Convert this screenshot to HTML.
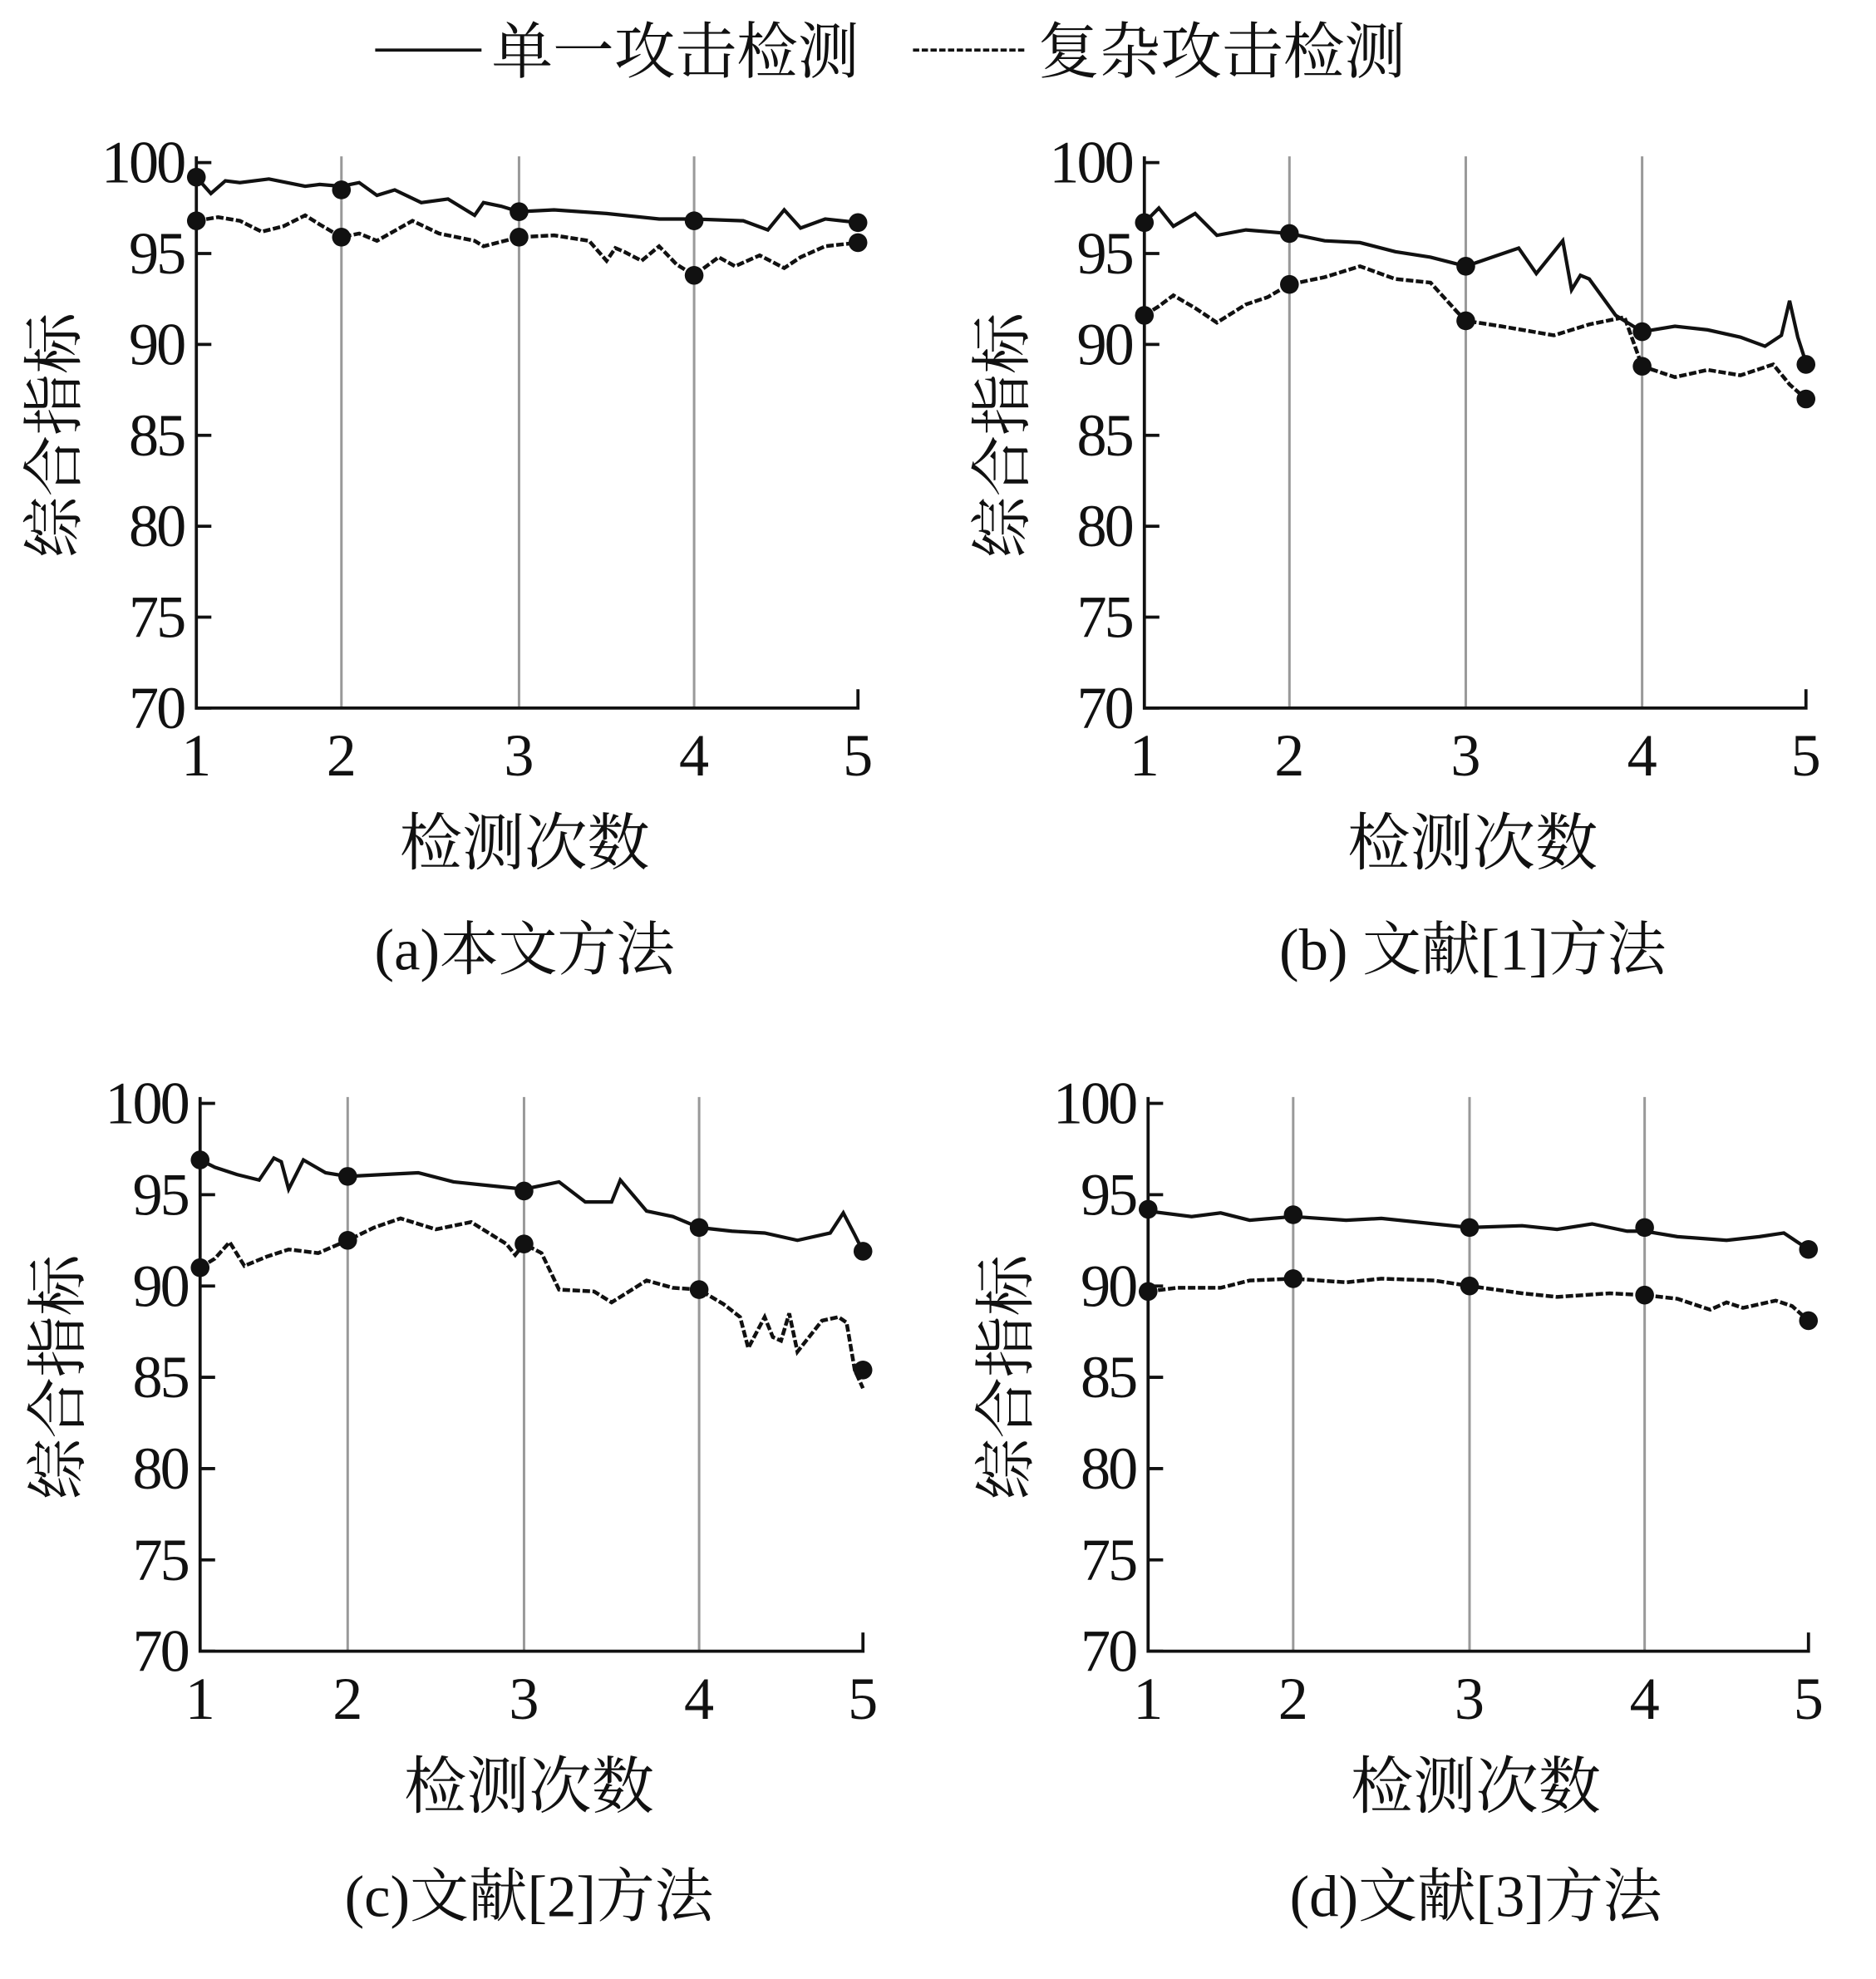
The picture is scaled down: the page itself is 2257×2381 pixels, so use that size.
<!DOCTYPE html>
<html><head><meta charset="utf-8"><style>
html,body{margin:0;padding:0;background:#fff;}
svg{display:block;}
text{font-family:"Liberation Serif","Noto Serif CJK SC",serif;fill:#111;}
.cjk{font-weight:normal;}
</style></head><body>
<svg id="chart" width="2257" height="2381" viewBox="0 0 1500 1582" preserveAspectRatio="none" xmlns="http://www.w3.org/2000/svg">
<g>
<line x1="300" y1="40" x2="385" y2="40" stroke="#111" stroke-width="2.5"/>
<text class="cjk" x="393" y="58" font-size="49">单一攻击检测</text>
<line x1="730" y1="40" x2="820" y2="40" stroke="#111" stroke-width="2.5" stroke-dasharray="5,2"/>
<text class="cjk" x="830" y="58" font-size="49">复杂攻击检测</text>
</g>
</svg>
<script>
const yTicks=[100,95,90,85,80,75,70];
const xTickLabels=[1,2,3,4,5];
const captions=["(a)本文方法","(b) 文献[1]方法","(c)文献[2]方法","(d)文献[3]方法"];
const aSolidX=[1,1.1,1.2,1.3,1.5,1.75,1.85,2,2.1,2.2,2.3,2.45,2.6,2.75,2.8,2.9,3,3.2,3.5,3.8,4,4.3,4.45,4.55,4.65,4.8,5];
const aSolidV=[99.2,98.3,99,98.9,99.1,98.7,98.8,98.7,98.9,98.2,98.5,97.8,98,97.1,97.8,97.6,97.3,97.4,97.2,96.9,96.9,96.8,96.3,97.4,96.4,96.9,96.7];
const aDashX=[1,1.15,1.3,1.45,1.6,1.75,1.85,2,2.1,2.2,2.4,2.55,2.75,2.8,3,3.2,3.4,3.5,3.55,3.6,3.7,3.8,3.9,4,4.15,4.25,4.4,4.55,4.65,4.8,5];
const aDashV=[96.8,97,96.8,96.2,96.5,97.1,96.6,95.9,96.1,95.7,96.8,96.1,95.7,95.4,95.9,96,95.7,94.6,95.3,95.1,94.6,95.4,94.4,93.8,94.8,94.3,94.9,94.2,94.8,95.4,95.6];
const aDotV=[99.2,98.5,97.3,96.8,96.7];
const aDotV2=[96.8,95.9,95.9,93.8,95.6];
const bSolidX=[1,1.1,1.2,1.35,1.5,1.7,2,2.2,2.4,2.6,2.8,3,3.15,3.3,3.4,3.55,3.6,3.65,3.7,3.85,4,4.2,4.4,4.6,4.75,4.85,4.9,4.95,5];
const bSolidV=[96.7,97.5,96.5,97.2,96,96.3,96.1,95.7,95.6,95.1,94.8,94.3,94.8,95.3,93.9,95.7,93,93.8,93.6,91.6,90.7,91,90.8,90.4,89.9,90.5,92.4,90.4,89];
const bDashX=[1,1.1,1.2,1.35,1.5,1.7,1.85,2,2.2,2.4,2.6,2.8,2.95,3,3.2,3.5,3.7,3.9,4,4.2,4.4,4.6,4.8,4.9,5];
const bDashV=[91.6,92.1,92.7,92,91.2,92.2,92.6,93.3,93.7,94.3,93.6,93.4,91.8,91.3,91,90.5,91.1,91.5,88.8,88.2,88.6,88.3,88.9,87.8,87];
const bDotV=[96.7,96.1,94.3,90.7,88.9];
const bDotV2=[91.6,93.3,91.3,88.8,87];
const cSolidX=[1,1.1,1.25,1.4,1.5,1.55,1.6,1.7,1.85,2,2.2,2.4,2.6,2.8,3,3.2,3.35,3.5,3.55,3.7,3.85,4,4.2,4.4,4.6,4.8,4.88,4.95,5];
const cSolidV=[96.9,96.5,96.1,95.8,97,96.8,95.3,96.9,96.2,96,96.1,96.2,95.7,95.5,95.3,95.7,94.6,94.6,95.8,94.1,93.8,93.2,93,92.9,92.5,92.9,94,92.8,91.9];
const cDashX=[1,1.1,1.2,1.3,1.45,1.6,1.8,2,2.15,2.3,2.5,2.7,2.9,2.95,3,3.1,3.2,3.4,3.5,3.7,3.85,4,4.15,4.25,4.3,4.4,4.45,4.5,4.55,4.6,4.75,4.85,4.9,4.95,5];
const cDashV=[91,91.5,92.4,91.1,91.6,92,91.8,92.5,93.2,93.7,93.1,93.5,92.3,91.7,92.3,91.8,89.8,89.7,89.1,90.3,89.9,89.8,89,88.3,86.6,88.3,87.2,87,88.5,86.4,88.1,88.3,88,85.4,84.4];
const cDotV=[96.9,96,95.2,93.2,91.9];
const cDotV2=[91,92.5,92.3,89.8,85.4];
const dSolidX=[1,1.3,1.5,1.7,2,2.3,2.5,2.8,3,3.3,3.5,3.7,3.9,4,4.2,4.5,4.7,4.85,4.95,5];
const dSolidV=[94.1,93.8,94,93.6,93.8,93.6,93.7,93.4,93.2,93.3,93.1,93.4,93,93,92.7,92.5,92.7,92.9,92.3,92];
const dDashX=[1,1.2,1.5,1.7,2,2.3,2.5,2.8,3,3.3,3.5,3.8,4,4.2,4.4,4.5,4.6,4.8,4.9,5];
const dDashV=[89.7,89.9,89.9,90.3,90.4,90.2,90.4,90.3,90,89.6,89.4,89.6,89.5,89.3,88.7,89.1,88.8,89.2,88.9,88.1];
const dDotV=[94.2,93.9,93.2,93.2,92];
const dDotV2=[89.7,90.4,90,89.5,88.1];

const panels=[
 {id:'a',xpos:[157,273,415,555,686],top:130,bot:566,sx:aSolidX,sv:aSolidV,dx:aDashX,dv:aDashV,d1:aDotV,d2:aDotV2,cap:captions[0],capY:775},
 {id:'b',xpos:[915,1031,1172,1313,1444],top:130,bot:566,sx:bSolidX,sv:bSolidV,dx:bDashX,dv:bDashV,d1:bDotV,d2:bDotV2,cap:captions[1],capY:775},
 {id:'c',xpos:[160,278,419,559,690],top:882,bot:1320,sx:cSolidX,sv:cSolidV,dx:cDashX,dv:cDashV,d1:cDotV,d2:cDotV2,cap:captions[2],capY:1532},
 {id:'d',xpos:[918,1034,1175,1315,1446],top:882,bot:1320,sx:dSolidX,sv:dSolidV,dx:dDashX,dv:dDashV,d1:dDotV,d2:dDotV2,cap:captions[3],capY:1532}
];
const NS='http://www.w3.org/2000/svg';
const svg=document.getElementById('chart');
function mk(tag,attrs,parent){const e=document.createElementNS(NS,tag);for(const k in attrs)e.setAttribute(k,attrs[k]);parent.appendChild(e);return e;}
panels.forEach(p=>{
 const g=mk('g',{},svg);
 
 
 const X=t=>{const i=Math.min(3,Math.max(0,Math.floor(t-1)));const f=t-1-i;return p.xpos[i]+f*(p.xpos[i+1]-p.xpos[i]);};
 const Y=v=>p.bot-(v-70)/30*(p.bot-p.top);
 const x0=p.xpos[0],x5=p.xpos[4];
 for(let i=1;i<4;i++){const l=mk('line',{x1:p.xpos[i],x2:p.xpos[i],y1:p.top-5,y2:p.bot,stroke:'#999','stroke-width':2},g);
  
  }
 const ax=mk('path',{d:`M${x0},${p.top-5}V${p.bot}H${x5}V${p.bot-15}`,fill:'none',stroke:'#111','stroke-width':2.5},g);
 
 
 yTicks.forEach(v=>{
  mk('line',{x1:x0-1,x2:x0+12,y1:Y(v),y2:Y(v),stroke:'#111','stroke-width':2.5},g);
  const t=mk('text',{x:x0-10,y:Y(v)+16,'font-size':48,'text-anchor':'end','letter-spacing':'-2'},g);t.textContent=v;
  
  
 });
 xTickLabels.forEach((v,i)=>{
  const t=mk('text',{x:p.xpos[i],y:p.bot+54,'font-size':48,'text-anchor':'middle'},g);t.textContent=v;
  
  
 });
 const yl=mk('text',{x:0,y:0,'font-size':49,'text-anchor':'middle','class':'cjk',transform:`translate(${x0-97},${(p.top+p.bot)/2}) rotate(-90)`},g);yl.textContent='综合指标';
 
 
 const xl=mk('text',{x:(x0+x5)/2-2,y:p.bot+125,'font-size':50,'text-anchor':'middle','class':'cjk'},g);xl.textContent='检测次数';
 
 
 const cp=mk('text',{x:(x0+x5)/2-2,y:p.capY,'font-size':47,'text-anchor':'middle'},g);cp.textContent=p.cap;
 
 
 const s=mk('polyline',{points:p.sx.map((t,i)=>X(t)+','+Y(p.sv[i])).join(' '),fill:'none',stroke:'#111','stroke-width':2.8},g);
 
 
 const d=mk('polyline',{points:p.dx.map((t,i)=>X(t)+','+Y(p.dv[i])).join(' '),fill:'none',stroke:'#111','stroke-width':3,'stroke-dasharray':'6,2'},g);
 
 
 [p.d1,p.d2].forEach((arr,k)=>arr.forEach((v,i)=>{
  const c=mk('circle',{cx:X(i+1),cy:Y(v),r:7.5,fill:'#111'},g);
  
  
 }));
});
</script>
</body></html>
